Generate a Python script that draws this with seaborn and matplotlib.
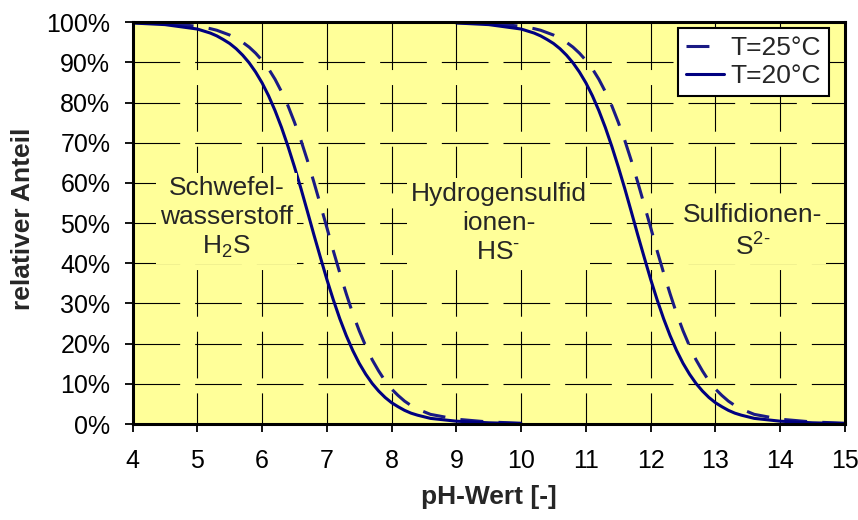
import matplotlib
matplotlib.use("Agg")
import matplotlib.pyplot as plt
import pandas as pd
import seaborn as sns
from matplotlib.ticker import PercentFormatter

# first dissociation step (H2S / HS-): pH and share of H2S in %
ph_step1 = [4.0, 4.5, 5.0, 5.2, 5.3, 5.4, 5.5, 5.6, 5.7, 5.8, 5.9, 6.0, 6.1, 6.2,
            6.3, 6.4, 6.5, 6.6, 6.7, 6.8, 6.9, 7.0, 7.1, 7.2, 7.3, 7.4, 7.5, 7.6,
            7.7, 7.8, 7.9, 8.0, 8.1, 8.2, 8.3, 8.4, 8.6, 9.0, 9.5, 10.0]
# second dissociation step (HS- / S2-): pH and share of HS- in %
ph_step2 = [9.0, 9.5, 10.0, 10.2, 10.3, 10.4, 10.5, 10.6, 10.7, 10.8, 10.9, 11.0, 11.1, 11.2,
            11.3, 11.4, 11.5, 11.6, 11.7, 11.8, 11.9, 12.0, 12.1, 12.2, 12.3, 12.4, 12.5, 12.6,
            12.7, 12.8, 12.9, 13.0, 13.1, 13.2, 13.3, 13.4, 13.6, 14.0, 14.5, 15.0]

# share at 20 °C (same course for both steps)
share_20 = [99.8, 99.4, 98.3, 97.3, 96.6, 95.7, 94.7, 93.4, 91.8, 89.9, 87.6, 84.9, 81.7, 78.0,
            73.8, 69.1, 64.0, 58.6, 52.9, 47.1, 41.5, 36.0, 30.9, 26.2, 22.0, 18.3, 15.1, 12.4,
            10.1, 8.2, 6.6, 5.3, 4.3, 3.4, 2.7, 2.2, 1.4, 0.7, 0.3, 0.1]
# share at 25 °C (same course for both steps)
share_25 = [99.9, 99.7, 99.0, 98.4, 98.0, 97.4, 96.8, 96.0, 95.0, 93.8, 92.3, 90.5, 88.4, 85.8,
            82.7, 79.2, 75.1, 70.6, 65.6, 60.2, 54.6, 48.9, 43.1, 37.6, 32.4, 27.5, 23.2, 19.4,
            16.0, 13.2, 10.7, 8.7, 7.1, 5.7, 4.6, 3.7, 2.4, 1.2, 0.5, 0.2]

temp_labels = ["T=25°C", "T=20°C"]
x_ticks = list(range(4, 16))
y_ticks = list(range(0, 101, 10))

frames = []
for ph, share, temp, step in [
    (ph_step1, share_25, "T=25°C", "1"),
    (ph_step1, share_20, "T=20°C", "1"),
    (ph_step2, share_25, "T=25°C", "2"),
    (ph_step2, share_20, "T=20°C", "2"),
]:
    frames.append(pd.DataFrame({"pH": ph, "Anteil": share,
                                "Temperatur": temp, "Stufe": step}))
df = pd.concat(frames, ignore_index=True)

sns.set_style("ticks")
plt.rcParams["font.family"] = ["Liberation Sans", "DejaVu Sans"]
plt.rcParams["mathtext.default"] = "regular"

YELLOW = "#FFFF99"
NAVY = "#000080"

fig = plt.figure(figsize=(8.58, 5.2), dpi=100)
ax = fig.add_axes([0.1545, 0.1846, 0.8303, 0.7727])
ax.set_facecolor(YELLOW)

sns.lineplot(data=df, x="pH", y="Anteil", hue="Temperatur", style="Temperatur",
             units="Stufe", estimator=None, sort=False,
             hue_order=temp_labels, style_order=temp_labels,
             palette={"T=25°C": "#1a1a84", "T=20°C": NAVY},
             dashes={"T=25°C": (7.5, 5), "T=20°C": ""},
             linewidth=2.2, ax=ax)
for line in ax.lines:
    line.set_solid_joinstyle("round")
    line.set_dash_joinstyle("round")

ax.set_xlim(4, 15)
ax.set_ylim(0, 100)
ax.set_xticks(x_ticks)
ax.set_yticks(y_ticks)
ax.yaxis.set_major_formatter(PercentFormatter(100, decimals=0))

# dashed grid, drawn below the curves
ax.set_axisbelow(True)
ax.yaxis.grid(True, color="black", linewidth=0.8, linestyle=(0, (42, 13.5)))
ax.xaxis.grid(True, color="black", linewidth=0.8, linestyle=(14, (42, 13.5)))

for side in ["left", "right", "top", "bottom"]:
    ax.spines[side].set_visible(True)
    ax.spines[side].set_linewidth(2.2)
    ax.spines[side].set_color("black")

ax.tick_params(axis="both", direction="out", length=6, width=1.3,
               colors="black", labelsize=18)
ax.tick_params(axis="y", pad=10)
ax.tick_params(axis="x", pad=12)

ax.set_xlabel("pH-Wert [-]", fontsize=19, fontweight="bold")
ax.set_ylabel("relativer Anteil", fontsize=19, fontweight="bold")
ax.xaxis.set_label_coords(0.5, -0.199)
ax.xaxis.label.set_va("baseline")
ax.yaxis.set_label_coords(-0.137, 0.51)

# species labels on an opaque background
box = dict(boxstyle="square,pad=0.15", facecolor=YELLOW, edgecolor="none")
ax.text(5.45, 51.2, "Schwefel-\nwasserstoff\nH$_2$S", ha="center", va="center",
        fontsize=19, linespacing=1.26, bbox=box, zorder=5)
ax.text(9.65, 50.1, "Hydrogensulfid\nionen-\nHS$^{\u2010}$", ha="center", va="center",
        fontsize=19, linespacing=1.26, bbox=box, zorder=5)
ax.text(13.57, 47.9, "Sulfidionen-\nS$^{2\u2010}$", ha="center", va="center",
        fontsize=19, linespacing=1.3, bbox=box, zorder=5)

old = ax.get_legend()
handles = old.legend_handles
labels = [t.get_text() for t in old.texts]
old.remove()
for h in handles:
    h.set_linewidth(2.2)
leg = ax.legend(handles, labels, loc="upper right", bbox_to_anchor=(0.9775, 0.9856),
                borderaxespad=0, fontsize=19, frameon=True, fancybox=False,
                framealpha=1, edgecolor="black", handlelength=1.45,
                handletextpad=0.25, borderpad=0.3, labelspacing=0.15)
leg.get_frame().set_linewidth(1.5)
leg.set_zorder(6)

fig.savefig("out.png", dpi=100, facecolor="white")
